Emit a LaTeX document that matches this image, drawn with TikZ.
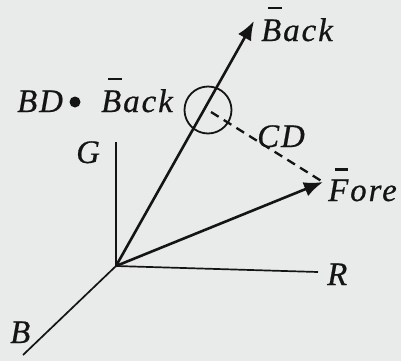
\documentclass[tikz,border=0pt]{standalone}
\usepackage{fontspec}
\setmainfont{Liberation Serif}
\newfontfamily\labfont{Liberation Serif}[LetterSpace=6,FakeBold=0.6]
\usetikzlibrary{arrows.meta}
\definecolor{bgc}{RGB}{233,235,234}
\definecolor{ink}{RGB}{20,20,20}
\newcommand\barit[3]{\makebox[0pt][l]{\hspace{#2em}\raisebox{#3em}{\rule{0.4em}{0.07em}}}#1}
\begin{document}
\begin{tikzpicture}[x=1bp,y=-1bp,
  axisline/.style={draw=ink,line width=1.7bp},
  vec/.style={draw=ink,line width=2.6bp,-{Latex[length=19bp,width=15bp]}},
  dashline/.style={draw=ink,line width=2.3bp,dash pattern=on 9bp off 6bp},
  lab/.style={anchor=base west,inner sep=0,text=ink,font=\labfont\fontsize{33}{40}\selectfont\itshape},
  ring/.style={circle,draw=ink,line width=1.8bp,minimum size=47bp,inner sep=0},
  dotmark/.style={circle,fill=ink,minimum size=11bp,inner sep=0}]
\fill[bgc] (0,0) rectangle (401,361);
\useasboundingbox (0,0) rectangle (401,361);
\coordinate (O) at (116,266);
\coordinate (Gt) at (116,142);
\coordinate (Re) at (318,272);
\coordinate (Be) at (23,355);
\coordinate (Bk) at (254,21);
\coordinate (Fo) at (323,182);
\coordinate (cd) at (211,112);
\node[ring] (rg) at (208,110) {};
\draw[axisline] (O) -- (Gt);
\draw[axisline] (O) -- (Re);
\draw[axisline] (O) -- (Be);
\draw[vec] (O) -- (Bk);
\draw[vec] (O) -- (Fo);
\draw[dashline] (cd) -- (Fo);
\node[lab] (lbk) at (261,41) {\barit{B}{0.22}{0.97}ack};
\node[lab] (lfo) at (328,201) {\barit{F}{0.2}{0.92}ore};
\node[lab] (lbd) at (17,112) {BD};
\node[dotmark] (dot) at (75,102) {};
\node[lab] (lbb) at (101,112) {\barit{B}{0.22}{0.97}ack};
\node[lab] (lcd) at (257,147) {CD};
\node[lab] (lg) at (76,163) {G};
\node[lab] (lr) at (327,285) {R};
\node[lab] (lb) at (10,343) {B};
\end{tikzpicture}
\end{document}
